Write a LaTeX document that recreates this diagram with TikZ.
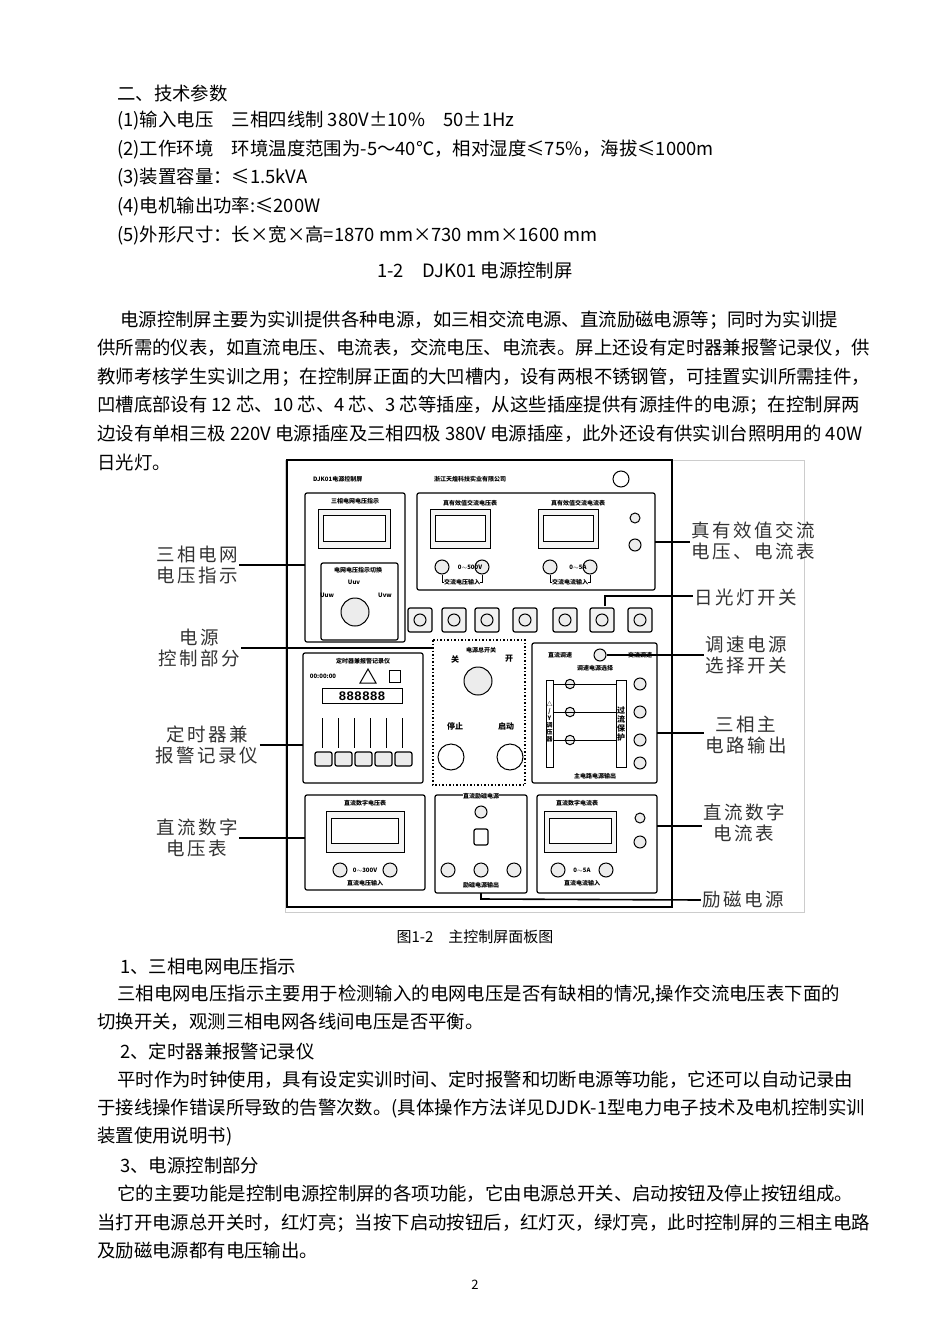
\documentclass[tikz,border=0pt]{standalone}
\usepackage{fontspec}
\setmainfont{Noto Sans CJK SC}
\newfontfamily\lblfont[LetterSpace=14]{Noto Sans CJK SC}
\setmonofont{Liberation Mono}
\begin{document}
\begin{tikzpicture}[x=1pt,y=-1pt,
 body/.style={anchor=west,inner sep=0pt,font=\fontsize{18.4}{20}\selectfont},
 lbl/.style={align=center,inner sep=1pt,text=black!80,font=\fontsize{18.5}{21}\lblfont},
 box/.style={draw,line width=1.2pt,rounded corners=2pt},
 tiny/.style={inner sep=0pt,font=\fontsize{6}{7}\selectfont\bfseries},
 lead/.style={line width=1.6pt},
 knob/.style={draw,circle,minimum size=14pt,line width=1pt,fill=gray!15},
 meter/.style={draw,line width=1pt,fill=gray!8},
 disp/.style={draw,line width=1pt,fill=white}]
\useasboundingbox (0,0) rectangle (950,1343);
\fill[white] (0,0) rectangle (950,1343);
% text above
\node[body] (t1) at (117,93) {二、技术参数};
\node[body] (t2) at (117,121) {(1)输入电压\quad 三相四线制 380V±10\%\quad 50±1Hz};
\node[body] (t3) at (117,150) {(2)工作环境\quad 环境温度范围为-5～40℃，相对湿度≤75\%，海拔≤1000m};
\node[body] (t4) at (117,178) {(3)装置容量：≤1.5kVA};
\node[body] (t5) at (117,207) {(4)电机输出功率:≤200W};
\node[body] (t6) at (117,235) {(5)外形尺寸：长×宽×高=1870 mm×730 mm×1600 mm};
\node[body,anchor=center] (ti) at (475,271) {1-2\quad DJK01 电源控制屏};
\node[body] (p1) at (120,320) {电源控制屏主要为实训提供各种电源，如三相交流电源、直流励磁电源等；同时为实训提};
\node[body] (p2) at (97,348) {供所需的仪表，如直流电压、电流表，交流电压、电流表。屏上还设有定时器兼报警记录仪，供};
\node[body] (p3) at (97,377) {教师考核学生实训之用；在控制屏正面的大凹槽内，设有两根不锈钢管，可挂置实训所需挂件，};
\node[body] (p4) at (97,405) {凹槽底部设有 12 芯、10 芯、4 芯、3 芯等插座，从这些插座提供有源挂件的电源；在控制屏两};
\node[body] (p5) at (97,434) {边设有单相三极 220V 电源插座及三相四极 380V 电源插座，此外还设有供实训台照明用的 40W};
\node[body] (p6) at (97,463) {日光灯。};
% figure
\draw[gray!40,line width=.6pt] (285,460) rectangle (804,912);
\draw[line width=2pt] (287,460) rectangle (672,907);
\node[tiny,anchor=west] (hd1) at (313,479) {DJK01电源控制屏};
\node[tiny] (hd2) at (470,479) {浙江天煌科技实业有限公司};
\node[draw,circle,minimum size=16pt,line width=1pt] (logo) at (621,479) {};
% top left box
\draw[box] (305,493) rectangle (405,642);
\node[tiny] (a1) at (355,501) {三相电网电压指示};
\draw[meter] (318,509) rectangle (390,548); \draw[disp] (323,515) rectangle (385,541);
\draw[box] (321,563) rectangle (398,640);
\node[tiny] (a2) at (358,570) {电网电压指示切换};
\node[knob,minimum size=28pt] (sw1) at (355,612) {};
\node[tiny] (uv) at (354,582) {Uuv}; \node[tiny] (uw) at (327,595) {Uuw}; \node[tiny] (vw) at (385,595) {Uvw};
% AC meters
\draw[box] (417,493) rectangle (655,590);
\foreach \x/\t/\s in {452/真有效值交流电压表/交流电压输入,560/真有效值交流电流表/交流电流输入}{
 \node[tiny] at (\x+18,503) {\t};
 \draw[meter] (\x-22,509) rectangle (\x+38,548); \draw[disp] (\x-17,515) rectangle (\x+33,541);
 \node[knob] at (\x-10,567) {}; \node[knob] at (\x+30,567) {};
 \draw[line width=.8pt] (\x-10,575) -- (\x-10,582) -- (\x+30,582) -- (\x+30,575);
 \node[tiny,fill=white] at (\x+10,582) {\s};}
\node[tiny] at (470,567) {0$\sim$500V}; \node[tiny] at (578,567) {0$\sim$5A};
\node[knob,minimum size=10pt] (k1) at (635,518) {}; \node[knob,minimum size=12pt] (k2) at (635,545) {};
% switch row
\foreach \x in {420,454,487,525,565,602,640}{\draw[box,fill=gray!10] (\x-12,608) rectangle (\x+12,632); \node[knob,minimum size=12pt] at (\x,620) {};}
% timer box
\draw[box] (303,653) rectangle (423,783);
\node[tiny] (tm) at (363,661) {定时器兼报警记录仪};
\node[tiny] at (323,676) {00:00:00};
\draw[line width=1pt] (360,683) -- (368,669) -- (376,683) -- cycle;
\draw[line width=1pt] (389,670) rectangle (400,682);
\draw[disp] (322,688) rectangle (402,703);
\node[inner sep=0pt,font=\fontsize{13}{13}\selectfont\ttfamily\bfseries] at (362,696) {888888};
\foreach \i in {0,...,5}{\draw[line width=.8pt] (322+\i*16,718) -- (322+\i*16,748);}
\foreach \i in {0,...,4}{\draw[box,fill=gray!15] (315+\i*20,752) rectangle (332+\i*20,766);}
% power switch area
\draw[line width=1.5pt,dotted] (433,640) rectangle (525,785);
\node[tiny] (ps) at (481,650) {电源总开关};
\node[font=\fontsize{8}{8}\selectfont\bfseries,inner sep=0pt] at (455,659) {关};
\node[font=\fontsize{8}{8}\selectfont\bfseries,inner sep=0pt] at (509,659) {开};
\node[knob,minimum size=28pt] (key) at (478,681) {};
\node[font=\fontsize{8}{8}\selectfont\bfseries,inner sep=0pt] at (455,726) {停止};
\node[font=\fontsize{8}{8}\selectfont\bfseries,inner sep=0pt] at (506,726) {启动};
\node[draw,circle,minimum size=26pt,line width=1pt] (stop) at (451,757) {};
\node[draw,circle,minimum size=26pt,line width=1pt] (start) at (510,757) {};
% main circuit box
\draw[box] (532,643) rectangle (657,783);
\node[knob,minimum size=12pt] (sel) at (600,655) {};
\node[tiny] at (560,655) {直流调速}; \node[tiny] at (640,655) {交流调速};
\node[tiny] at (595,668) {调速电源选择};
\draw[line width=1pt] (546,680) rectangle (553,767);
\draw[line width=1pt] (616,680) rectangle (626,767);
\node[tiny,align=center] at (549.5,722) {△\\/\\Y\\调\\压\\器};
\node[tiny,align=center,font=\fontsize{8}{9}\selectfont\bfseries] at (621,724) {过\\流\\保\\护};
\foreach \y/\l in {684/A,712/B,740/C}{\node[knob,minimum size=9pt] at (570,\y) {}; \draw[line width=.8pt] (553,\y) -- (616,\y); \node[knob,minimum size=12pt] at (640,\y) {};}
\node[knob,minimum size=12pt] at (640,763) {};
\node[tiny] at (595,776) {主电路电源输出};
% bottom boxes
\draw[box] (305,795) rectangle (425,890);
\node[tiny] at (365,803) {直流数字电压表};
\draw[meter] (326,811) rectangle (404,852); \draw[disp] (331,818) rectangle (398,843);
\node[knob] at (340,870) {}; \node[knob] at (390,870) {}; \node[tiny] at (365,870) {0$\sim$300V};
\node[tiny,fill=white] at (365,883) {直流电压输入};
\draw[box] (435,795) rectangle (527,893);
\node[tiny,fill=white] at (481,796) {直流励磁电源};
\node[knob,minimum size=12pt] at (481,812) {};
\draw[box] (474,829) rectangle (488,845);
\node[knob] at (448,870) {}; \node[knob] at (481,870) {}; \node[knob] at (514,870) {};
\node[tiny,fill=white] at (481,885) {励磁电源输出};
\draw[box] (537,795) rectangle (657,893);
\node[tiny] at (577,803) {直流数字电流表};
\draw[meter] (544,811) rectangle (616,852); \draw[disp] (549,818) rectangle (611,843);
\node[knob] at (558,870) {}; \node[knob] at (606,870) {}; \node[tiny] at (582,870) {0$\sim$5A};
\node[tiny,fill=white] at (582,883) {直流电流输入};
\node[knob,minimum size=10pt] at (640,818) {}; \node[knob,minimum size=12pt] at (640,842) {};
% labels and leaders
\node[lbl] (L1) at (197,565) {三相电网\\电压指示};
\node[lbl] (L2) at (199,648) {电源\\控制部分};
\node[lbl] (L3) at (207,745) {定时器兼\\报警记录仪};
\node[lbl] (L4) at (197,838) {直流数字\\电压表};
\node[lbl] (R1) at (753,541) {真有效值交流\\电压、电流表};
\node[lbl] (R2) at (746,598) {日光灯开关};
\node[lbl] (R3) at (746,655) {调速电源\\选择开关};
\node[lbl] (R4) at (746,735) {三相主\\电路输出};
\node[lbl] (R5) at (744,823) {直流数字\\电流表};
\node[lbl] (R6) at (743,900) {励磁电源};
\draw[lead] (L1.east) -- (L1.east-|305,0);
\draw[lead] (L2.east) -- (L2.east-|433,0);
\draw[lead] (L3.east) -- (L3.east-|303,0);
\draw[lead] (L4.east) -- (L4.east-|305,0);
\draw[lead] (655,542) -- (R1.west|-655,542);
\draw[lead] (605,606) -- (605,596) -- (R2.west|-605,596);
\draw[lead] (sel.east) -- (R3.west|-sel.east);
\draw[lead] (657,733) -- (R4.west|-657,733);
\draw[lead] (657,826) -- (R5.west|-657,826);
\draw[lead] (481,893) -- (481,899) -- (R6.west);
% caption
\node[body,anchor=center,font=\fontsize{15}{17}\selectfont] (cap) at (475,937) {图1-2\quad 主控制屏面板图};
% text below
\node[body] (b1) at (120,966) {1、三相电网电压指示};
\node[body] (b2) at (117,994) {三相电网电压指示主要用于检测输入的电网电压是否有缺相的情况,操作交流电压表下面的};
\node[body] (b3) at (97,1022) {切换开关，观测三相电网各线间电压是否平衡。};
\node[body] (b4) at (120,1051) {2、定时器兼报警记录仪};
\node[body] (b5) at (117,1080) {平时作为时钟使用，具有设定实训时间、定时报警和切断电源等功能，它还可以自动记录由};
\node[body] (b6) at (97,1108) {于接线操作错误所导致的告警次数。(具体操作方法详见DJDK-1型电力电子技术及电机控制实训};
\node[body] (b7) at (97,1137) {装置使用说明书)};
\node[body] (b8) at (120,1165) {3、电源控制部分};
\node[body] (b9) at (117,1194) {它的主要功能是控制电源控制屏的各项功能，它由电源总开关、启动按钮及停止按钮组成。};
\node[body] (b10) at (97,1223) {当打开电源总开关时，红灯亮；当按下启动按钮后，红灯灭，绿灯亮，此时控制屏的三相主电路};
\node[body] (b11) at (97,1251) {及励磁电源都有电压输出。};
\node[body,anchor=center,font=\fontsize{13}{15}\selectfont] (pg) at (475,1285) {2};
\end{tikzpicture}
\end{document}
